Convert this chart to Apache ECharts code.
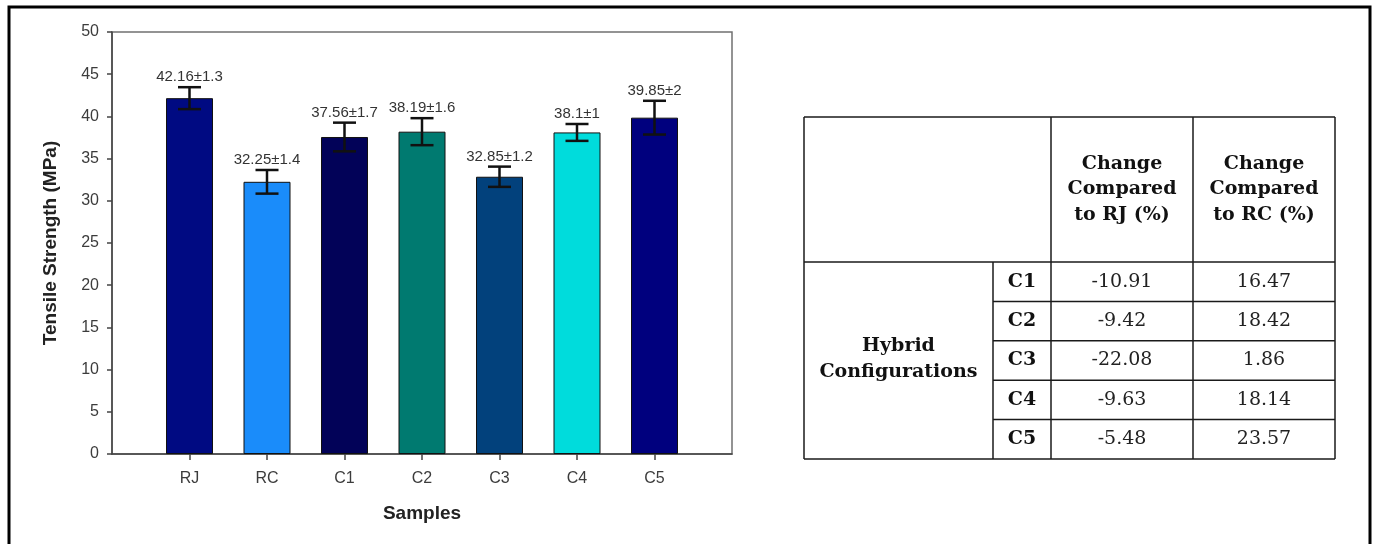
<!DOCTYPE html>
<html>
<head>
<meta charset="utf-8">
<title>Tensile Strength of Samples</title>
<script src="https://cdn.jsdelivr.net/npm/echarts@6/dist/echarts.min.js"></script>
<style>
  html, body { margin: 0; padding: 0; background: #fff; }
  #chart { width: 1375px; height: 544px; }
</style>
</head>
<body>
<div id="chart"></div>
<script>
// Tensile strength per sample (mean ± standard deviation, MPa)
const samples = ['RJ', 'RC', 'C1', 'C2', 'C3', 'C4', 'C5'];
const tensileMean = [42.16, 32.25, 37.56, 38.19, 32.85, 38.1, 39.85];
const tensileSd = [1.3, 1.4, 1.7, 1.6, 1.2, 1, 2];
const barColors = ['#000a82', '#1a8cfa', '#020258', '#007a70', '#02417c', '#00dcdc', '#00007e'];

// Summary table: change of each hybrid configuration relative to RJ and RC
const hybridRows = ['C1', 'C2', 'C3', 'C4', 'C5'];
const changeVsRJ = [-10.91, -9.42, -22.08, -9.63, -5.48];
const changeVsRC = [16.47, 18.42, 1.86, 18.14, 23.57];
const tableHeaders = ['Change\nCompared\nto RJ (%)', 'Change\nCompared\nto RC (%)'];
const groupLabel = 'Hybrid\nConfigurations';

const SANS = '"Liberation Sans", Arial, sans-serif';
const SERIF = '"DejaVu Serif", Cambria, serif';

// one empty slot on each side of the samples
const xCats = [''].concat(samples, ['']);
const barData = [null].concat(
  tensileMean.map((v, i) => ({ value: v, itemStyle: { color: barColors[i] } })),
  [null]
);
const errData = tensileMean.map((m, i) => [i + 1, m, tensileSd[i]]);

// ---- table drawn with graphic elements ----
const colX = [804, 993, 1051, 1193, 1335];
const headTop = 117, headBottom = 262, tableBottom = 459;
const rowH = (tableBottom - headBottom) / hybridRows.length;
const lineStyle = { stroke: '#1a1a1a', lineWidth: 1.5 };
const gfx = [];
function hLine(x1, x2, y) {
  gfx.push({ type: 'line', shape: { x1: x1, y1: y, x2: x2, y2: y }, style: lineStyle, silent: true });
}
function vLine(x, y1, y2) {
  gfx.push({ type: 'line', shape: { x1: x, y1: y1, x2: x, y2: y2 }, style: lineStyle, silent: true });
}
function cellText(text, x, y, bold, lh) {
  gfx.push({
    type: 'text', silent: true,
    style: {
      text: text, x: x, y: y,
      font: (bold ? 'bold ' : '') + '19px ' + SERIF,
      fill: bold ? '#111' : '#222',
      align: 'center', verticalAlign: 'middle',
      textAlign: 'center', textVerticalAlign: 'middle',
      lineHeight: lh || 25
    }
  });
}
hLine(colX[0], colX[4], headTop);
hLine(colX[0], colX[4], headBottom);
for (let r = 1; r < hybridRows.length; r++) hLine(colX[1], colX[4], headBottom + r * rowH);
hLine(colX[0], colX[4], tableBottom);
vLine(colX[0], headTop, tableBottom);
vLine(colX[1], headBottom, tableBottom);
vLine(colX[2], headTop, tableBottom);
vLine(colX[3], headTop, tableBottom);
vLine(colX[4], headTop, tableBottom);

const headMid = (headTop + headBottom) / 2;
tableHeaders.forEach((h, i) => cellText(h, (colX[2 + i] + colX[3 + i]) / 2, headMid, true, 25.5));
cellText(groupLabel, (colX[0] + colX[1]) / 2, (headBottom + tableBottom) / 2 - 1, true, 26);
hybridRows.forEach((name, r) => {
  const cy = headBottom + (r + 0.5) * rowH;
  cellText(name, (colX[1] + colX[2]) / 2, cy, true);
  cellText(changeVsRJ[r].toFixed(2), (colX[2] + colX[3]) / 2, cy, false);
  cellText(changeVsRC[r].toFixed(2), (colX[3] + colX[4]) / 2, cy, false);
});

// outer frame around the figure
gfx.push({
  type: 'rect', silent: true, z: 10,
  shape: { x: 9, y: 7, width: 1361, height: 620 },
  style: { fill: null, stroke: '#000', lineWidth: 3 }
});

const chart = echarts.init(document.getElementById('chart'), null, { renderer: 'canvas' });
chart.setOption({
  backgroundColor: '#fff',
  animation: false,
  grid: {
    left: 112, top: 32, right: 643, bottom: 90,
    show: true, borderColor: '#707070', borderWidth: 1.5
  },
  xAxis: {
    type: 'category',
    data: xCats,
    boundaryGap: false,
    axisLine: { lineStyle: { color: '#444', width: 1.5 } },
    axisTick: {
      interval: (idx, val) => val !== '',
      length: 6,
      lineStyle: { color: '#444', width: 1.5 }
    },
    axisLabel: { interval: 0, margin: 17, color: '#3c3c3c', fontSize: 16, fontFamily: SANS },
    name: 'Samples',
    nameLocation: 'middle',
    nameGap: 50,
    nameTextStyle: { fontWeight: 'bold', fontSize: 19, color: '#222', fontFamily: SANS }
  },
  yAxis: {
    type: 'value',
    min: 0, max: 50, interval: 5,
    axisLine: { show: true, lineStyle: { color: '#444', width: 1.5 } },
    axisTick: { show: true, length: 5, lineStyle: { color: '#444', width: 1.5 } },
    splitLine: { show: false },
    axisLabel: { margin: 13, color: '#3c3c3c', fontSize: 16, fontFamily: SANS },
    name: 'Tensile Strength (MPa)',
    nameLocation: 'middle',
    nameGap: 52,
    nameTextStyle: { fontWeight: 'bold', fontSize: 19, color: '#222', fontFamily: SANS }
  },
  series: [
    {
      type: 'bar',
      data: barData,
      barWidth: 47,
      itemStyle: { borderColor: '#111', borderWidth: 1 },
      z: 2
    },
    {
      type: 'custom',
      data: errData,
      encode: { x: 0, y: 1 },
      z: 5,
      renderItem: function (params, api) {
        const x = api.value(0), m = api.value(1), e = api.value(2);
        const top = api.coord([x, m + e]);
        const bot = api.coord([x, m - e]);
        const hw = 11.5;
        const st = { stroke: '#111', lineWidth: 2.5 };
        const i = params.dataIndex;
        return {
          type: 'group',
          children: [
            { type: 'line', shape: { x1: top[0], y1: top[1], x2: bot[0], y2: bot[1] }, style: st },
            { type: 'line', shape: { x1: top[0] - hw, y1: top[1], x2: top[0] + hw, y2: top[1] }, style: st },
            { type: 'line', shape: { x1: bot[0] - hw, y1: bot[1], x2: bot[0] + hw, y2: bot[1] }, style: st },
            {
              type: 'text',
              style: {
                text: tensileMean[i] + '±' + tensileSd[i],
                x: top[0], y: top[1] - 10,
                font: '15px ' + SANS,
                fill: '#333',
                align: 'center', verticalAlign: 'middle',
                textAlign: 'center', textVerticalAlign: 'middle'
              }
            }
          ]
        };
      }
    }
  ],
  graphic: { elements: gfx }
});
</script>
</body>
</html>
